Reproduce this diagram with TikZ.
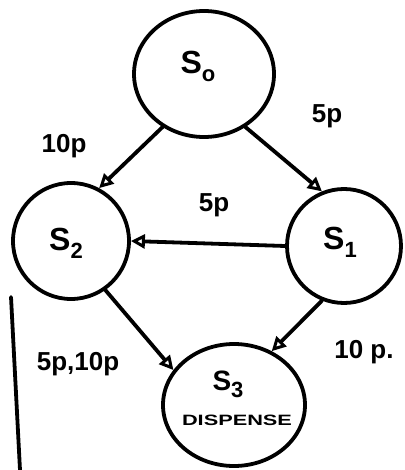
\documentclass[tikz,border=0pt]{standalone}
\usepackage{fontspec}
\setmainfont{Liberation Sans}
\usetikzlibrary{arrows.meta, shapes.geometric}
\newcommand{\stname}[2]{#1\raisebox{-0.25em}{\fontsize{22}{24}\selectfont\bfseries #2}}
\begin{document}
\begin{tikzpicture}[x=1pt,y=-1pt,
  line width=3.8pt, line cap=round, line join=round,
  lbl/.style={font=\fontsize{26}{28}\selectfont\bfseries},
  sname/.style={font=\fontsize{32}{34}\selectfont\bfseries},
  edge/.style={-{Triangle[open, length=14pt, width=14pt, line width=3pt]}}]
  \useasboundingbox (0,0) rectangle (404,470);
  % states
  \node[draw, ellipse, minimum width=140pt, minimum height=126pt, inner sep=0pt] (s0) at (204,74) {};
  \node[sname] at (198,66) {\stname{S}{o}};
  \node[draw, circle, minimum size=116pt, inner sep=0pt] (s2) at (71,241) {};
  \node[sname] at (66,243) {\stname{S}{2}};
  \node[draw, circle, minimum size=114pt, inner sep=0pt] (s1) at (344,246) {};
  \node[sname] at (340,242) {\stname{S}{1}};
  \node[draw, ellipse, minimum width=142pt, minimum height=122pt, inner sep=0pt] (s3) at (234,405) {};
  \node[font=\fontsize{28}{30}\selectfont\bfseries] at (228,384) {\stname{S}{3}};
  \node[font=\fontsize{15}{16}\selectfont\bfseries] at (237,420) {\scalebox{1.45}[1]{DISPENSE}};
  % transitions
  \draw[edge] (s0.-128) -- (s2.62);
  \draw[edge] (s0.-52) -- (s1.112);
  \draw[edge] (s1.west) -- (s2.east);
  \draw[edge] (s2.-55) -- (s3.150);
  \draw[edge] (s1.-112) -- (s3.55);
  % labels
  \node[lbl] at (64,146) {10p};
  \node[lbl] at (327,116) {5p};
  \node[lbl] at (214,205) {5p};
  \node[lbl] at (78,364) {5p,10p};
  \node[lbl] at (364,352) {10 p.};
  % margin rule
  \coordinate (r1) at (11,297);
  \coordinate (r2) at (20,470);
  \draw (r1) -- (r2);
\end{tikzpicture}
\end{document}
